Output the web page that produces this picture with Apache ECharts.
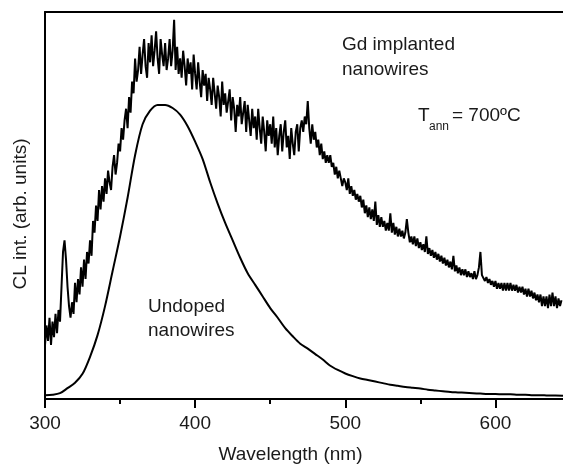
<!DOCTYPE html>
<html>
<head>
<meta charset="utf-8">
<script src="https://cdn.jsdelivr.net/npm/echarts@6/dist/echarts.min.js"></script>
<style>
html,body{margin:0;padding:0;background:#fff;}
#chart{width:563px;height:464px;}
</style>
</head>
<body>
<div id="chart"></div>
<script>
// Gd implanted nanowires, sampled every 1 nm from 300 to 644
const gdStart = 300, gdStep = 1;
const gdValues = [
14,19,15,21,14,20,16,22,17,23,
20,29,38,41,36,29,24,21,25,22,
30,25,31,27,34,29,36,31,38,35,
41,37,46,43,50,46,54,49,55,51,
57,53,59,56,54,60,63,58,61,66,
64,70,67,72,75,70,78,74,82,79,
88,82,85,91,84,89,93,86,83,92,
87,94,86,90,95,88,84,93,89,86,
92,85,88,93,86,90,98,85,91,84,
88,83,90,86,81,88,84,87,80,89,
84,80,87,82,78,85,81,84,77,83,
80,76,83,79,75,81,78,73,82,76,
79,74,77,80,72,78,75,69,76,73,
78,71,74,77,69,76,72,68,75,70,
73,67,75,70,66,73,69,64,72,68,
71,66,73,65,70,63,68,71,64,69,
72,65,68,62,70,66,63,69,71,64,
70,72,69,73,71,77,70,66,71,67,
69,65,67,63,66,62,64,61,63,61,
63,60,61,58,60,57,59,57,55,57,
56,54,57,53,55,52.5,54,51.5,53,51,
52.5,49.5,51.5,48,50,47,49.5,46.5,49,46,
51,45,47.5,44.5,47,44.5,46,43.5,45.5,43.5,
48,43,45.5,42.5,44.5,42,44,42,43.5,41.5,
43,46.5,43,40.5,42,40,42,39.5,41.5,39,
40.5,38.5,40,38,42,37.5,39,37,38.5,36.5,
38,36,37.5,35.5,37,35,36.5,34.5,36,34,
35.5,33.5,37,33,34.5,32.5,34,32,33.5,32,
33.5,31.5,33,31.5,32.5,31,33,31,32,34,
38,32,31.5,30.5,31.5,30,31,29.5,30.5,29,
30.5,28.5,30,28.5,30,28,30,28,30,28,
30,28,29.5,28,29.5,27.5,29,27.5,29,27,
28.5,26.5,28.5,26.5,28,26,27.5,25.5,27,25,
27,24,26.5,24,26.5,23.5,27,24,27.5,24,
26.5,23.5,26,24,25.5
];
// Undoped nanowires, sampled every 5 nm from 300 to 645
const undopedStart = 300, undopedStep = 5;
const undopedValues = [
1.0,1.1,1.5,2.8,4.2,6.5,10.9,16.5,24,33,
42,52,63,71,74.5,76,76,75.2,73.5,70.5,
66.5,62,56,50.5,45.5,41,36.5,32.5,29.5,26.5,
23.5,21,18.3,16.2,14.3,13,11.6,10.2,8.6,7.5,
6.6,5.9,5.3,4.9,4.5,4.1,3.7,3.4,3.1,2.9,
2.7,2.4,2.2,2.0,1.8,1.7,1.6,1.5,1.4,1.3,
1.3,1.2,1.2,1.1,1.1,1.0,1.0,0.9,0.9,0.85
];
const xTicks = [300, 400, 500, 600];
const xMinorTicks = [350, 450, 550];
const xLabel = 'Wavelength (nm)';
const yLabel = 'CL int. (arb. units)';

const gdData = gdValues.map((v, i) => [gdStart + i * gdStep, v]);
const undopedData = undopedValues.map((v, i) => [undopedStart + i * undopedStep, v]);

const FONT = '"Liberation Sans", Arial, sans-serif';
const TXT = '#1a1a1a';
const FS = 19;

const chart = echarts.init(document.getElementById('chart'), null, {renderer: 'canvas'});
chart.setOption({
  animation: false,
  backgroundColor: '#fff',
  grid: {left: 45, right: 0, top: 12, bottom: 65, containLabel: false, outerBoundsMode: 'none'},
  xAxis: [{
    type: 'value', min: 300, max: 645, interval: 100,
    name: xLabel, nameLocation: 'middle', nameGap: 46,
    nameTextStyle: {fontFamily: FONT, fontSize: FS, color: TXT, padding: [0, 27, 0, 0]},
    axisLine: {show: true, onZero: false, lineStyle: {color: '#000', width: 2}},
    axisTick: {show: true, length: 9, customValues: xTicks, lineStyle: {color: '#000', width: 2}},
    axisLabel: {fontFamily: FONT, fontSize: FS, color: TXT, margin: 15, customValues: xTicks},
    splitLine: {show: false}
  }, {
    type: 'value', min: 300, max: 645, position: 'top',
    axisLine: {show: true, onZero: false, lineStyle: {color: '#000', width: 2}},
    axisTick: {show: false}, axisLabel: {show: false}, splitLine: {show: false}
  }, {
    type: 'value', min: 300, max: 645, position: 'bottom',
    axisLine: {show: false},
    axisTick: {show: true, length: 5, customValues: xMinorTicks, lineStyle: {color: '#000', width: 2}},
    axisLabel: {show: false}, splitLine: {show: false}
  }],
  yAxis: {
    type: 'value', min: 0, max: 100,
    name: yLabel, nameLocation: 'middle', nameGap: 15, nameRotate: 90,
    nameTextStyle: {fontFamily: FONT, fontSize: FS, color: TXT, padding: [0, 17, 0, 0]},
    axisLine: {show: true, lineStyle: {color: '#000', width: 2}},
    axisTick: {show: false}, axisLabel: {show: false}, splitLine: {show: false}
  },
  series: [{
    type: 'line', data: gdData, symbol: 'none', xAxisIndex: 0,
    lineStyle: {color: '#000', width: 2}
  }, {
    type: 'line', data: undopedData, symbol: 'none', xAxisIndex: 0, smooth: 0.3,
    lineStyle: {color: '#000', width: 2}
  }],
  graphic: [
    {type: 'text', left: 342, top: 35, style: {text: 'Gd implanted', font: FS + 'px ' + FONT, fill: TXT}},
    {type: 'text', left: 342, top: 60, style: {text: 'nanowires', font: FS + 'px ' + FONT, fill: TXT}},
    {type: 'text', left: 418, top: 106, style: {text: 'T', font: FS + 'px ' + FONT, fill: TXT}},
    {type: 'text', left: 429, top: 121, style: {text: 'ann', font: '12px ' + FONT, fill: TXT}},
    {type: 'text', left: 452, top: 106, style: {text: '= 700ºC', font: FS + 'px ' + FONT, fill: TXT}},
    {type: 'text', left: 148, top: 297, style: {text: 'Undoped', font: FS + 'px ' + FONT, fill: TXT}},
    {type: 'text', left: 148, top: 321, style: {text: 'nanowires', font: FS + 'px ' + FONT, fill: TXT}}
  ]
});
</script>
</body>
</html>
